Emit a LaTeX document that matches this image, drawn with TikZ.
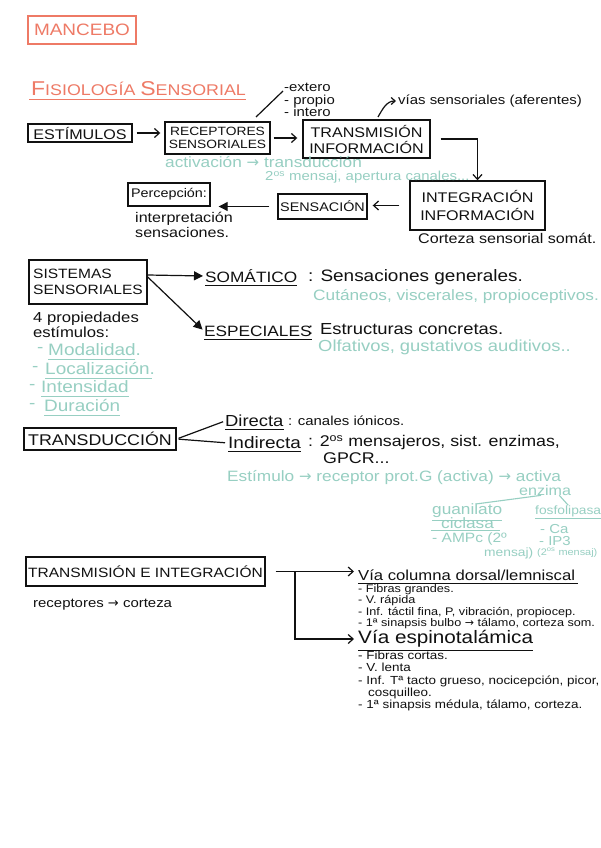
\documentclass[tikz,border=0pt]{standalone}
\usepackage{fontspec}
\setmainfont{Liberation Sans}[FakeStretch=1.15]
\newfontfamily\symf{DejaVu Sans}
\usetikzlibrary{arrows.meta}
\definecolor{salmon}{HTML}{EE7A66}
\definecolor{tealc}{HTML}{97CFC2}
\definecolor{ink}{HTML}{111111}
\newcommand\arr{{\symf →}}
\newcommand\fs[2]{\fontsize{#1}{#2}\selectfont}
\begin{document}
\begin{tikzpicture}[x=1pt,y=-1pt,
  box/.style={draw=ink, line width=1.4pt, inner sep=0pt, align=center, text=ink},
  txt/.style={anchor=west, inner sep=0pt, align=left, text=ink},
  tl/.style={txt, text=tealc},
  con/.style={draw=ink, line width=1.2pt},
  barb/.style={con, -{Straight Barb[length=5pt,width=9pt]}},
  tri/.style={con, -{Triangle[length=9pt,width=9pt]}},
  ulk/.style={draw=ink, line width=1.1pt},
  ult/.style={draw=tealc, line width=1.1pt},
]
\path[use as bounding box, fill=white] (0,0) rectangle (600,848);

% header
\node[box, draw=salmon, line width=1.1pt, minimum width=108pt, minimum height=28pt, text=salmon, font=\fs{16.5}{18}] (mancebo) at (82,30) {MANCEBO};
\node[txt, text=salmon] (title) at (31,89) {\fs{20}{22}F\fs{15.5}{18}ISIOLOGÍA \fs{20}{22}S\fs{15.5}{18}ENSORIAL};
\draw[salmon, line width=1.2pt] ([yshift=-3pt,xshift=-2pt]title.south west) -- ([yshift=-3pt]title.south east);

% top flow
\node[box, minimum width=104pt, minimum height=18pt, font=\fs{14}{15}] (est) at (80,133) {ESTÍMULOS};
\node[box, minimum width=105pt, minimum height=32pt, font=\fs{12}{12.5}] (rec) at (217.5,138) {RECEPTORES\\SENSORIALES};
\draw[barb, shorten <=4pt, shorten >=4pt] (est.east) -- (est.east -| rec.west);
\node[txt, font=\fs{13}{12.5}] (lst) at (284,100) {-extero\\- propio\\- intero};
\coordinate (c1) at (256,117);
\coordinate (c2) at (283,91);
\draw[con] (c1) -- (c2);
\node[box, minimum width=127pt, minimum height=38pt, font=\fs{14}{16}] (tra) at (366.5,139) {TRANSMISIÓN\\INFORMACIÓN};
\draw[barb, shorten <=3pt, shorten >=5pt] (rec.east) -- (rec.east -| tra.west);
\node[txt, font=\fs{13}{14}] (vias) at (398,101) {vías sensoriales (aferentes)};
\coordinate (c3) at (378,117);
\draw[con, -{Straight Barb[length=4pt,width=7pt]}] (c3) to[out=60, in=180] ([xshift=-2pt]vias.west);
\node[box, minimum width=135pt, minimum height=49pt, font=\fs{14}{18}] (int) at (477.5,205.5) {INTEGRACIÓN\\INFORMACIÓN};
\draw[barb] ([xshift=10pt]tra.east) -| (int.north);
\node[txt, font=\fs{14}{16}] (cort) at (418,238) {Corteza sensorial somát.};
\node[box, minimum width=89pt, minimum height=25pt, font=\fs{12.5}{14}] (sen) at (322.5,206.5) {SENSACIÓN};
\draw[barb, shorten <=10pt, shorten >=5pt] (int.west) -- (int.west -| sen.east);
\node[box, minimum width=82pt, minimum height=23pt, font=\fs{12.5}{14}] (per) at (169,194.5) {Percepción:};
\draw[tri, shorten <=8pt, shorten >=8pt] (sen.west) -- (sen.west -| per.east);
\node[txt, font=\fs{14}{15}] (interp) at (135,225) {interpretación\\sensaciones.};
\node[tl, font=\fs{15}{15}] (act) at (165,162) {activación \arr{} transducción};
\node[tl, font=\fs{13}{13}] (seg) at (265,177.5) {2\textsuperscript{os} mensaj, apertura canales...};

% sistemas sensoriales
\node[box, minimum width=118pt, minimum height=44pt, font=\fs{13.5}{16}, align=left] (sis) at (88,282) {SISTEMAS\\SENSORIALES};
\node[txt, font=\fs{15}{16}] (som) at (205,276) {SOMÁTICO};
\draw[ulk] ([yshift=-3pt]som.south west) -- ([yshift=-3pt]som.south east);
\node[txt, font=\fs{15}{16}] (esp) at (204,331) {ESPECIALES};
\draw[ulk] ([yshift=-3pt]esp.south west) -- ([yshift=-3pt]esp.south east);
\draw[tri, shorten >=2pt] ([yshift=7pt]sis.east) -- (som.west);
\draw[tri, shorten >=2pt] ([yshift=5pt]sis.east) -- (esp.west);
\node[txt, font=\fs{16.5}{18}] (somd) at (308,277) {: Sensaciones generales.};
\node[tl, font=\fs{15}{17}] (cut) at (313,297) {Cutáneos, viscerales, propioceptivos.};
\node[txt, font=\fs{16}{17}] (espd) at (308,329) {: Estructuras concretas.};
\node[tl, font=\fs{16}{16}] (olf) at (318,347) {Olfativos, gustativos auditivos..};
\node[txt, font=\fs{14.5}{15}] (prop) at (33,325) {4 propiedades\\estímulos:};
\node[tl, font=\fs{16.5}{16}] (d1) at (37,350) {-};
\node[tl, font=\fs{16.5}{16}] (m1) at (48,350) {Modalidad.};
\draw[ult] ([yshift=-3pt]m1.south west) -- ([yshift=-3pt,xshift=-6pt]m1.south east);
\node[tl, font=\fs{16.5}{16}] (d2) at (32,369) {-};
\node[tl, font=\fs{16.5}{16}] (m2) at (45,369) {Localización.};
\draw[ult] ([yshift=-3pt]m2.south west) -- ([yshift=-3pt,xshift=-3pt]m2.south east);
\node[tl, font=\fs{16.5}{16}] (d3) at (29,387) {-};
\node[tl, font=\fs{16.5}{16}] (m3) at (41,387) {Intensidad};
\draw[ult] ([yshift=-3pt]m3.south west) -- ([yshift=-3pt]m3.south east);
\node[tl, font=\fs{16.5}{16}] (d4) at (29,406) {-};
\node[tl, font=\fs{16.5}{16}] (m4) at (44,406) {Duración};
\draw[ult] ([yshift=-3pt]m4.south west) -- ([yshift=-3pt]m4.south east);

% transduccion
\node[box, minimum width=152pt, minimum height=22pt, font=\fs{15.5}{17}] (trd) at (100,439) {TRANSDUCCIÓN};
\node[txt, font=\fs{16}{16}] (dir) at (225,421) {Directa};
\draw[ulk] ([yshift=-2pt]dir.south west) -- ([yshift=-2pt]dir.south east);
\node[txt, font=\fs{13}{15}] (dird) at (288,421) {: canales iónicos.};
\node[txt, font=\fs{16.5}{15}] (ind) at (228,443) {Indirecta};
\draw[ulk] ([yshift=-2pt]ind.south west) -- ([yshift=-2pt]ind.south east);
\node[txt, font=\fs{15.5}{17}, anchor=north west] (indd) at (308,435) {: 2\textsuperscript{os} mensajeros, sist. enzimas,\\\hspace*{15pt}GPCR...};
\draw[con, shorten <=2pt, shorten >=2pt] (trd.east) -- (dir.west);
\draw[con, shorten <=2pt, shorten >=3pt] (trd.east) -- (ind.west);
\node[tl, font=\fs{15}{15}] (estim) at (227,478) {Estímulo \arr{} receptor prot.G (activa) \arr{} activa};
\node[tl, font=\fs{14}{14}] (enz) at (519,490) {enzima};
\node[tl, font=\fs{15}{13}] (gua) at (432,511) {guanilato};
\draw[ult] ([yshift=-2pt]gua.south west) -- ([yshift=-2pt]gua.south east);
\node[tl, font=\fs{15}{13}] (cic) at (441,523) {ciclasa};
\draw[ult] ([yshift=-2pt,xshift=-10pt]cic.south west) -- ([yshift=-2pt,xshift=6pt]cic.south east);
\node[tl, font=\fs{13.5}{12}] (amp) at (432,539.5) {- AMPc (2º};
\node[tl, font=\fs{12}{12}] (amp2) at (484,553) {mensaj)};
\node[tl, font=\fs{12}{13}] (fos) at (535,511) {fosfolipasa};
\draw[ult] ([yshift=-2pt]fos.south west) -- ([yshift=-2pt]fos.south east);
\node[tl, font=\fs{13}{12}] (ca) at (540,529) {- Ca};
\node[tl, font=\fs{13}{12}] (ip) at (539,541) {- IP3};
\node[tl, font=\fs{9.5}{11}] (ms) at (537,553) {(2\textsuperscript{os} mensaj)};
\draw[ult] ([xshift=-4pt]enz.south) -- ([xshift=10pt]gua.north);
\draw[ult] ([xshift=-12pt]enz.south east) -- (fos.north);

% transmision e integracion
\node[box, minimum width=239pt, minimum height=29pt, font=\fs{13.5}{15}] (tei) at (145.5,571.5) {TRANSMISIÓN E INTEGRACIÓN};
\node[txt, font=\fs{13}{15}] (rc) at (33,605) {receptores \arr{} corteza};
\node[txt, font=\fs{14.5}{17}] (v1) at (358,575) {Vía columna dorsal/lemniscal};
\draw[ulk] ([yshift=-3pt]v1.south west) -- ([yshift=-3pt,xshift=3pt]v1.south east);
\node[txt, font=\fs{11}{10}] (l1) at (358,606.5) {- Fibras grandes.\\- V. rápida\\- Inf. táctil fina, P, vibración, propiocep.\\- 1ª sinapsis bulbo \arr{} tálamo, corteza som.};
\node[txt, font=\fs{18}{19}] (v2) at (358,639) {Vía espinotalámica};
\draw[ulk] ([yshift=-3pt]v2.south west) -- ([yshift=-3pt]v2.south east);
\node[txt, font=\fs{11.7}{12.2}, anchor=north west] (l2) at (358,651) {- Fibras cortas.\\- V. lenta\\- Inf. Tª tacto grueso, nocicepción, picor,\\\hspace*{10pt}cosquilleo.\\- 1ª sinapsis médula, tálamo, corteza.};
\draw[barb, shorten <=10pt, shorten >=4pt] (tei.east) -- (tei.east -| v1.west);
\coordinate (br) at (295,572);
\draw[barb, shorten >=4pt] (br) |- (v2.west);
\end{tikzpicture}
\end{document}
